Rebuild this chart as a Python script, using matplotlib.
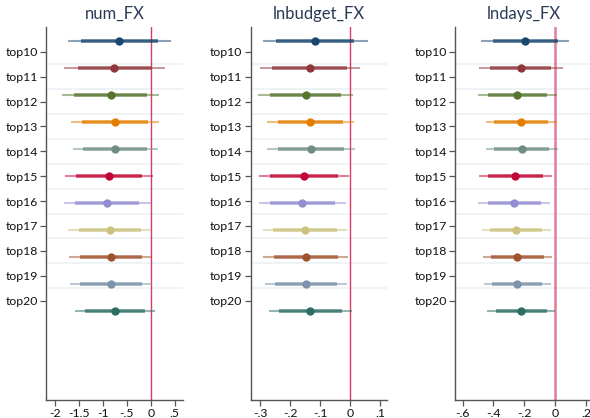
import matplotlib
matplotlib.use("Agg")
import matplotlib.pyplot as plt
import numpy as np

plt.rcParams['font.family'] = ['Lato', 'DejaVu Sans']

categories = ["top10", "top11", "top12", "top13", "top14", "top15",
              "top16", "top17", "top18", "top19", "top20"]

colors = ["#1a476f", "#90353b", "#55752f", "#e37e00", "#6e8e84", "#c10534",
          "#938dd2", "#cac27e", "#a0522d", "#7b92a8", "#2d6d66"]

# num_FX
num_coef = [-0.66, -0.76, -0.84, -0.75, -0.74, -0.875, -0.91, -0.85, -0.83, -0.83, -0.75]
num_lo95 = [-1.74, -1.81, -1.85, -1.66, -1.63, -1.79, -1.81, -1.72, -1.70, -1.69, -1.58]
num_hi95 = [0.42, 0.29, 0.17, 0.17, 0.15, 0.05, 0.00, 0.01, 0.03, 0.02, 0.08]
num_lo90 = [-1.46, -1.53, -1.60, -1.43, -1.41, -1.56, -1.58, -1.49, -1.48, -1.47, -1.37]
num_hi90 = [0.15, 0.01, -0.08, -0.06, -0.07, -0.18, -0.24, -0.21, -0.18, -0.19, -0.125]

# lnbudget_FX
bud_coef = [-0.117, -0.134, -0.148, -0.132, -0.131, -0.154, -0.159, -0.150, -0.148, -0.147, -0.133]
bud_lo95 = [-0.291, -0.301, -0.306, -0.276, -0.278, -0.303, -0.303, -0.291, -0.289, -0.282, -0.271]
bud_hi95 = [0.059, 0.033, 0.010, 0.012, 0.016, -0.004, -0.013, -0.010, -0.006, -0.011, 0.006]
bud_lo90 = [-0.246, -0.260, -0.266, -0.240, -0.241, -0.267, -0.268, -0.256, -0.253, -0.249, -0.237]
bud_hi90 = [0.013, -0.010, -0.030, -0.024, -0.020, -0.041, -0.050, -0.044, -0.041, -0.044, -0.028]

# lndays_FX
day_coef = [-0.193, -0.224, -0.248, -0.219, -0.217, -0.257, -0.268, -0.252, -0.248, -0.246, -0.219]
day_lo95 = [-0.478, -0.493, -0.502, -0.450, -0.450, -0.496, -0.498, -0.476, -0.469, -0.461, -0.443]
day_hi95 = [0.092, 0.048, 0.009, 0.013, 0.018, -0.018, -0.033, -0.026, -0.020, -0.026, 0.000]
day_lo90 = [-0.404, -0.423, -0.436, -0.393, -0.393, -0.434, -0.436, -0.419, -0.414, -0.406, -0.384]
day_hi90 = [0.020, -0.024, -0.055, -0.044, -0.042, -0.077, -0.094, -0.083, -0.075, -0.083, -0.053]

panels = [
    ("num_FX", num_coef, num_lo95, num_hi95, num_lo90, num_hi90,
     [-2, -1.5, -1, -0.5, 0, 0.5], ["-2", "-1.5", "-1", "-.5", "0", ".5"], (-2.19, 0.667)),
    ("lnbudget_FX", bud_coef, bud_lo95, bud_hi95, bud_lo90, bud_hi90,
     [-0.3, -0.2, -0.1, 0, 0.1], ["-.3", "-.2", "-.1", "0", ".1"], (-0.331, 0.124)),
    ("lndays_FX", day_coef, day_lo95, day_hi95, day_lo90, day_hi90,
     [-0.6, -0.4, -0.2, 0, 0.2], ["-.6", "-.4", "-.2", "0", ".2"], (-0.647, 0.239)),
]

W, H = 590, 418
fig = plt.figure(figsize=(W / 100, H / 100), dpi=100)
fig.patch.set_facecolor("white")

axes_px = [(46, 182.7), (250.7, 387.3), (455.3, 592)]
top_px, bot_px = 27, 400

n = len(categories)
tick_pos = np.arange(n)
pt_pos = np.linspace(-0.43, n - 1 + 0.43, n)
ref_colors = ["#dc3a62", "#dc3a62", "#e27a98"]
ref_lw = [1.0, 1.0, 1.8]

for k, (title, coef, lo95, hi95, lo90, hi90, xt, xtl, xl) in enumerate(panels):
    l, r = axes_px[k]
    ax = fig.add_axes([l / W, 1 - bot_px / H, (r - l) / W, (bot_px - top_px) / H])
    ax.set_ylim(14.0, -1.0)
    ax.set_xlim(*xl)
    for m in np.arange(n - 1) + 0.5:
        ax.axhline(m, color="#e9f1f3", lw=1.1, zorder=0)
    ax.axvline(0, color=ref_colors[k], lw=ref_lw[k], zorder=1)
    for i in range(n):
        y = pt_pos[i]
        ax.plot([lo95[i], hi95[i]], [y, y], color=colors[i], lw=1.5, alpha=0.5,
                solid_capstyle="butt", zorder=2)
        ax.plot([lo90[i], hi90[i]], [y, y], color=colors[i], lw=2.6, alpha=0.75,
                solid_capstyle="butt", zorder=3)
        ax.plot([coef[i]], [y], "o", color=colors[i], ms=6, mew=0, zorder=4)
    ax.set_yticks(tick_pos)
    ax.set_yticklabels(categories, fontsize=8.8, color="#111111")
    ax.set_xticks(xt)
    ax.set_xticklabels(xtl, fontsize=8.8, color="#111111")
    for s in ["top", "right"]:
        ax.spines[s].set_visible(False)
    for s in ["left", "bottom"]:
        ax.spines[s].set_color("#555555")
        ax.spines[s].set_linewidth(1.0)
    ax.tick_params(axis="both", direction="out", length=4, width=0.9, color="#555555", pad=2)
    ax.set_title(title, fontsize=12, color="#2b3a57", pad=6)
    ax.set_facecolor("white")

fig.savefig("out.png", dpi=100)
